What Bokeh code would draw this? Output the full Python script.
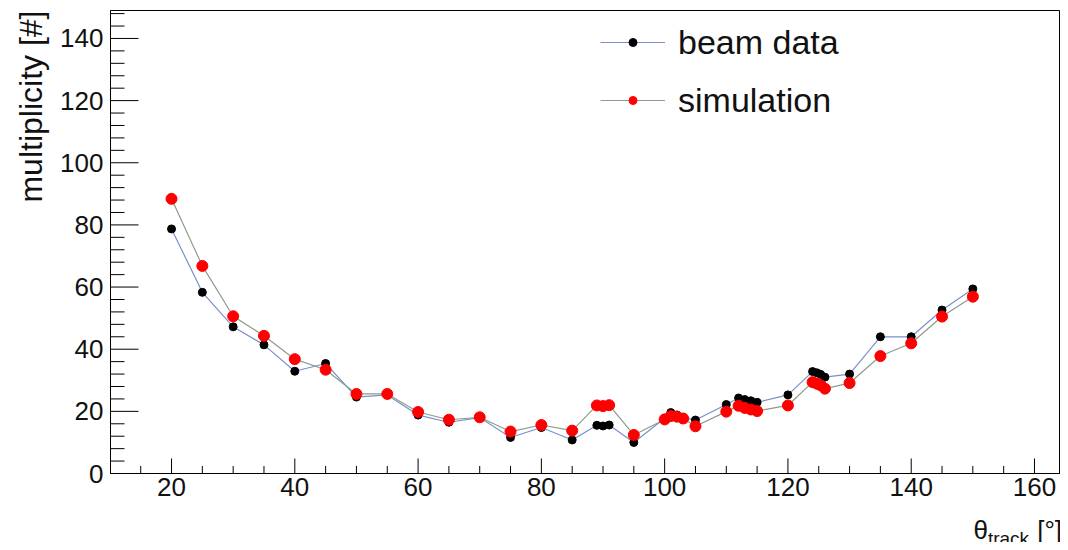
import math
import numpy as np
from bokeh.plotting import figure
from bokeh.layouts import column
from bokeh.models import Legend, LegendItem, Label, Range1d, Title
from bokeh.embed import file_html
from bokeh.resources import INLINE

# ---- data ----
theta = [20, 25, 30, 35, 40, 45, 50, 55, 60, 65, 70, 75, 80, 85,
         89, 90, 91, 95, 100, 101, 102, 103, 105, 110,
         112, 113, 114, 115, 120, 124, 124.7, 125.3, 126,
         130, 135, 140, 145, 150]
beam_data = [78.7, 58.3, 47.2, 41.4, 32.9, 35.4, 24.6, 25.3, 18.8, 16.5, 18.0, 11.6, 14.8, 10.8,
             15.5, 15.3, 15.6, 10.0, 17.8, 19.6, 18.8, 18.0, 17.2, 22.2,
             24.3, 23.8, 23.4, 22.9, 25.3, 32.8, 32.4, 31.9, 31.0,
             32.0, 44.0, 44.0, 52.6, 59.4]
simulation = [88.4, 66.8, 50.6, 44.3, 36.8, 33.4, 25.6, 25.6, 19.8, 17.3, 18.1, 13.5, 15.6, 13.8,
              21.9, 21.7, 22.0, 12.4, 17.4, 18.5, 18.3, 17.7, 15.2, 19.9,
              21.8, 21.1, 20.6, 20.1, 21.9, 29.4, 28.9, 28.4, 27.3,
              29.1, 37.8, 41.9, 50.5, 56.9]
x_ticks = [20, 40, 60, 80, 100, 120, 140, 160]
y_ticks = [0, 20, 40, 60, 80, 100, 120, 140]
x_minor_div = 4
y_minor_div = 5

FONT = "Liberation Sans"
TXT = "#111111"
BEAM_LINE = "#7890cc"
SIM_LINE = "#8c9c8c"

W = 1060
FRAME_L, FRAME_T, FRAME_B, FRAME_R = 110, 10, 473, 1060
H_MAIN = 505
H_STRIP = 37
X0 = 10.1
X1 = X0 + (FRAME_R - FRAME_L) / 6.164
Y0, Y1 = 0.0, 149.0

p = figure(width=W, height=H_MAIN, output_backend="svg", toolbar_location=None, title=None,
           x_range=Range1d(X0, X1), y_range=Range1d(Y0, Y1),
           min_border_left=FRAME_L, min_border_right=W - FRAME_R,
           min_border_top=FRAME_T, min_border_bottom=H_MAIN - FRAME_B)
p.outline_line_color = "black"
p.outline_line_width = 1
p.outline_line_alpha = 1
p.xgrid.visible = False
p.ygrid.visible = False
p.background_fill_color = None
p.border_fill_color = None

for ax in (p.xaxis[0], p.yaxis[0]):
    ax.axis_line_color = "black"
    ax.major_tick_out = 0
    ax.minor_tick_out = 0
    ax.major_tick_in = 0
    ax.minor_tick_in = 0
    ax.major_label_text_font = FONT
    ax.major_label_text_font_size = "26px"
    ax.major_label_text_color = TXT

p.xaxis.ticker = x_ticks
p.yaxis.ticker = y_ticks
p.xaxis.major_label_standoff = 4
p.yaxis.major_label_standoff = 7

# ---- inward ROOT-style ticks, derived from the tick arrays ----
px_per_x = (FRAME_R - FRAME_L) / (X1 - X0)
px_per_y = (FRAME_B - FRAME_T) / (Y1 - Y0)
xstep = (x_ticks[1] - x_ticks[0]) / x_minor_div
ystep = (y_ticks[1] - y_ticks[0]) / y_minor_div
x_minor = [v for v in np.arange(x_ticks[0] - 4 * xstep, X1, xstep) if v >= X0 and v not in x_ticks]
y_minor = [v for v in np.arange(y_ticks[0], Y1, ystep) if v not in y_ticks]
xmaj_len = 15 / px_per_y
xmin_len = 7.5 / px_per_y
ymaj_len = 28 / px_per_x
ymin_len = 14 / px_per_x
p.segment(x0=x_ticks, y0=[Y0] * len(x_ticks), x1=x_ticks, y1=[Y0 + xmaj_len] * len(x_ticks),
          line_color="black", line_width=1)
p.segment(x0=x_minor, y0=[Y0] * len(x_minor), x1=x_minor, y1=[Y0 + xmin_len] * len(x_minor),
          line_color="black", line_width=1)
p.segment(x0=[X0] * len(y_ticks), y0=y_ticks, x1=[X0 + ymaj_len] * len(y_ticks), y1=y_ticks,
          line_color="black", line_width=1)
p.segment(x0=[X0] * len(y_minor), y0=y_minor, x1=[X0 + ymin_len] * len(y_minor), y1=y_minor,
          line_color="black", line_width=1)

# ---- series ----
lb = p.line(theta, beam_data, line_color=BEAM_LINE, line_width=1.2)
sb = p.scatter(theta, beam_data, size=8, fill_color="black", line_color="black")
ls = p.line(theta, simulation, line_color=SIM_LINE, line_width=1.2)
ss = p.scatter(theta, simulation, size=11, fill_color="#ff0000", line_color="#ff0000")

frame_h = FRAME_B - FRAME_T
legend = Legend(items=[LegendItem(label="beam data", renderers=[lb, sb]),
                       LegendItem(label="simulation", renderers=[ls, ss])],
                location=(490, frame_h - 12 - 98), orientation="vertical",
                label_text_font=FONT, label_text_font_size="34px", label_text_color=TXT,
                glyph_width=65, glyph_height=20, label_height=40, label_standoff=13,
                spacing=18, padding=0, margin=0,
                border_line_alpha=0, background_fill_alpha=0)
p.add_layout(legend)

# y title, aligned to the top end of the axis
p.add_layout(Title(text="multiplicity [#]", align="right", text_font=FONT,
                   text_font_size="32px", text_font_style="normal", text_color=TXT,
                   standoff=18), "left")

# ---- x title strip (θ with subscript), right-aligned at the axis end ----
s = figure(width=W, height=H_STRIP, output_backend="svg", toolbar_location=None, title=None,
           x_range=Range1d(0, W), y_range=Range1d(0, H_STRIP),
           x_axis_type=None, y_axis_type=None,
           min_border=0, min_border_left=0, min_border_right=0,
           min_border_top=0, min_border_bottom=0)
s.outline_line_color = None
s.xgrid.visible = False
s.ygrid.visible = False
s.background_fill_color = None
s.border_fill_color = None
s.add_layout(Label(x=963, y=12.5, text="θ", text_align="left", text_baseline="alphabetic",
                   text_font=FONT, text_font_size="26px", text_color=TXT))
s.add_layout(Label(x=979, y=4.5, text="track", text_align="left", text_baseline="alphabetic",
                   text_font=FONT, text_font_size="19px", text_color=TXT))
s.add_layout(Label(x=1034, y=12.5, text="[°]", text_align="left", text_baseline="alphabetic",
                   text_font=FONT, text_font_size="26px", text_color=TXT))

layout = column(p, s, spacing=0)
open("out.html", "w").write(file_html(layout, INLINE))
